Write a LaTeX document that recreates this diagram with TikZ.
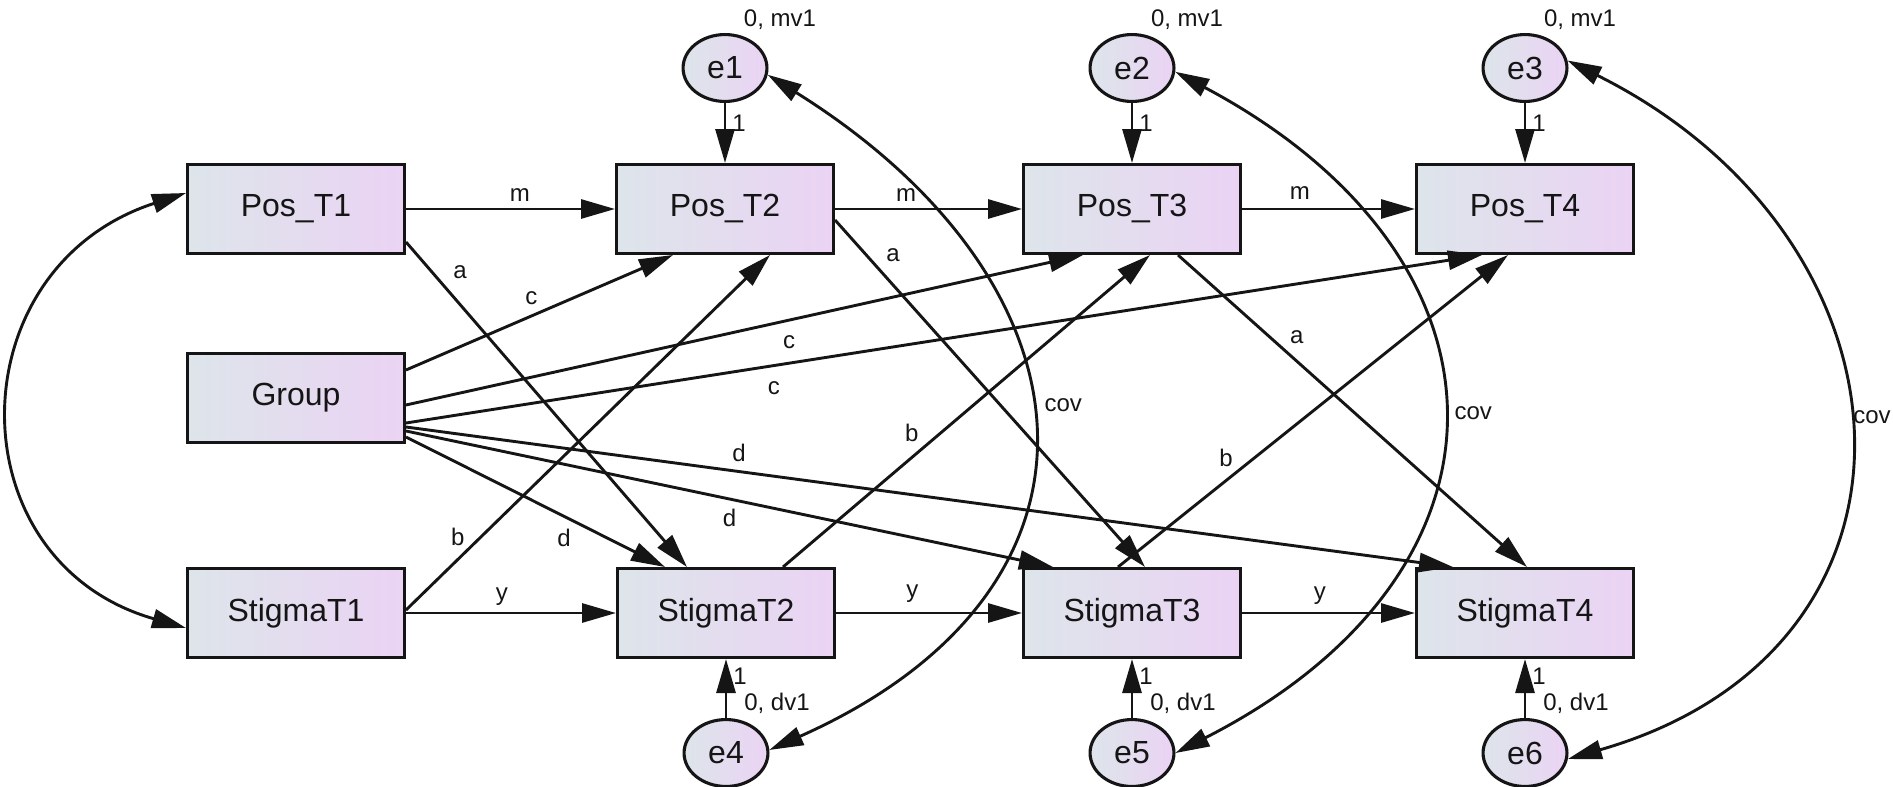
\documentclass[tikz,border=0pt]{standalone}
\usepackage{fontspec}
\setmainfont{Liberation Sans}
\usetikzlibrary{arrows.meta,shapes.geometric}
\definecolor{fillL}{HTML}{DDE5EA}
\definecolor{fillR}{HTML}{EBD3F4}
\definecolor{ink}{HTML}{151515}

\begin{document}
\begin{tikzpicture}[x=1pt,y=-1pt,
  line width=2.9pt,
  >={Triangle[length=34pt,width=19pt]},
  obs/.style={draw=ink, line width=3.1pt, rectangle, minimum width=216.9pt, minimum height=88.9pt,
    inner sep=0pt, left color=fillL, right color=fillR,
    font=\fontsize{32}{38}\selectfont, text=ink},
  err/.style={draw=ink, line width=3.1pt, ellipse, minimum width=83.9pt, minimum height=66.9pt,
    inner sep=0pt, left color=fillL, right color=fillR,
    font=\fontsize{32}{38}\selectfont, text=ink},
  lbl/.style={font=\fontsize{24}{28}\selectfont, text=ink, inner sep=1pt},
  reg/.style={->, draw=ink},
  cov/.style={<->, draw=ink}
]
\useasboundingbox (0,0) rectangle (1893,787);

% observed variables
\node[obs] (PosT1) at (296,209) {Pos\_T1};
\node[obs] (PosT2) at (725,209) {Pos\_T2};
\node[obs] (PosT3) at (1132,209) {Pos\_T3};
\node[obs] (PosT4) at (1525,209) {Pos\_T4};
\node[obs] (Group) at (296,398) {Group};
\node[obs] (StigT1) at (296,613) {StigmaT1};
\node[obs] (StigT2) at (726,613) {StigmaT2};
\node[obs] (StigT3) at (1132,613) {StigmaT3};
\node[obs] (StigT4) at (1525,613) {StigmaT4};

% error terms
\node[err] (e1) at (725,68) {e1};
\node[err] (e2) at (1132,68) {e2};
\node[err] (e3) at (1525,68) {e3};
\node[err] (e4) at (726,753) {e4};
\node[err] (e5) at (1132,753) {e5};
\node[err] (e6) at (1525,753) {e6};

% means and variances of the error terms
\node[lbl] (e1v) at ([shift={(55,-48)}]e1.center) {0, mv1};
\node[lbl] (e2v) at ([shift={(55,-48)}]e2.center) {0, mv1};
\node[lbl] (e3v) at ([shift={(55,-48)}]e3.center) {0, mv1};
\node[lbl] (e4v) at ([shift={(51,-50)}]e4.center) {0, dv1};
\node[lbl] (e5v) at ([shift={(51,-50)}]e5.center) {0, dv1};
\node[lbl] (e6v) at ([shift={(51,-50)}]e6.center) {0, dv1};

% error loadings
\draw[reg] (e1.south) -- node[lbl,pos=0.33,shift={(14,0)}] {1} (PosT2.north);
\draw[reg] (e2.south) -- node[lbl,pos=0.33,shift={(14,0)}] {1} (PosT3.north);
\draw[reg] (e3.south) -- node[lbl,pos=0.33,shift={(14,0)}] {1} (PosT4.north);
\draw[reg] (e4.north) -- node[lbl,pos=0.7,shift={(14,0)}] {1} (StigT2.south);
\draw[reg] (e5.north) -- node[lbl,pos=0.7,shift={(14,0)}] {1} (StigT3.south);
\draw[reg] (e6.north) -- node[lbl,pos=0.7,shift={(14,0)}] {1} (StigT4.south);

% autoregressive paths
\draw[reg] (PosT1.east) -- node[lbl,pos=0.545,shift={(0,-14)}] {m} (PosT2.west);
\draw[reg] (PosT2.east) -- node[lbl,pos=0.38,shift={(0,-14)}] {m} (PosT3.west);
\draw[reg] (PosT3.east) -- node[lbl,pos=0.335,shift={(0,-16)}] {m} (PosT4.west);
\draw[reg] (StigT1.east) -- node[lbl,pos=0.457,shift={(0,-16)}] {y} (StigT2.west);
\draw[reg] (StigT2.east) -- node[lbl,pos=0.41,shift={(0,-19)}] {y} (StigT3.west);
\draw[reg] (StigT3.east) -- node[lbl,pos=0.45,shift={(0,-17)}] {y} (StigT4.west);

% cross-lagged paths
\draw[reg] ([yshift=-33pt]PosT1.east) -- node[lbl,pos=0.1,shift={(26,-2.5)}] {a} ([xshift=-39pt]StigT2.north);
\draw[reg] ([yshift=-11pt]PosT2.east) -- node[lbl,pos=0.1,shift={(27,0)}] {a} ([xshift=13pt]StigT3.north);
\draw[reg] ([xshift=46pt]PosT3.south) -- node[lbl,pos=0.26,shift={(28,1)}] {a} ([xshift=2pt]StigT4.north);
\draw[reg] ([yshift=3pt]StigT1.east) -- node[lbl,pos=0.2,shift={(-21,-2)}] {b} ([xshift=45pt]PosT2.south);
\draw[reg] ([xshift=57pt]StigT2.north) -- node[lbl,pos=0.43,shift={(-29,0)}] {b} ([xshift=18pt]PosT3.south);
\draw[reg] ([xshift=-14pt]StigT3.north) -- node[lbl,pos=0.35,shift={(-28.5,0)}] {b} ([xshift=-17pt]PosT4.south);

% group effects
\draw[reg] ([yshift=28pt]Group.east) -- node[lbl,pos=0.47,shift={(0,-18)}] {c} ([xshift=-52pt]PosT2.south);
\draw[reg] ([yshift=-7pt]Group.east) -- node[lbl,pos=0.566,shift={(0,22)}] {c} ([xshift=-49pt]PosT3.south);
\draw[reg] ([yshift=-25pt]Group.east) -- node[lbl,pos=0.342,shift={(0,22.5)}] {c} ([xshift=-43pt]PosT4.south);
\draw[reg] ([yshift=-29pt]Group.east) -- node[lbl,pos=0.318,shift={(0,-18.5)}] {d} ([xshift=-72pt]StigT4.north);
\draw[reg] ([yshift=-33pt]Group.east) -- node[lbl,pos=0.5,shift={(0,19)}] {d} ([xshift=-79pt]StigT3.north);
\draw[reg] ([yshift=-39pt]Group.east) -- node[lbl,pos=0.61,shift={(0,22)}] {d} ([xshift=-61pt]StigT2.north);

% covariances
\draw[cov] ([yshift=16pt]PosT1.west) to[out=-162,in=164,distance=242pt] ([yshift=-15pt]StigT1.west);
\draw[cov] (e1.-9) to[out=-32,in=24,distance=396pt]
  node[lbl,pos=0.5,anchor=west,shift={(12,-26)}] {cov} (e4.4);
\draw[cov] (e2.-5) to[out=-28,in=27,distance=398pt]
  node[lbl,pos=0.5,anchor=west,shift={(12,-2)}] {cov} (e5.0);
\draw[cov] (e3.10) to[out=-26.5,in=16,distance=401pt]
  node[lbl,pos=0.5,anchor=west,shift={(4,-18)}] {cov} (e6.-8);
\end{tikzpicture}
\end{document}
